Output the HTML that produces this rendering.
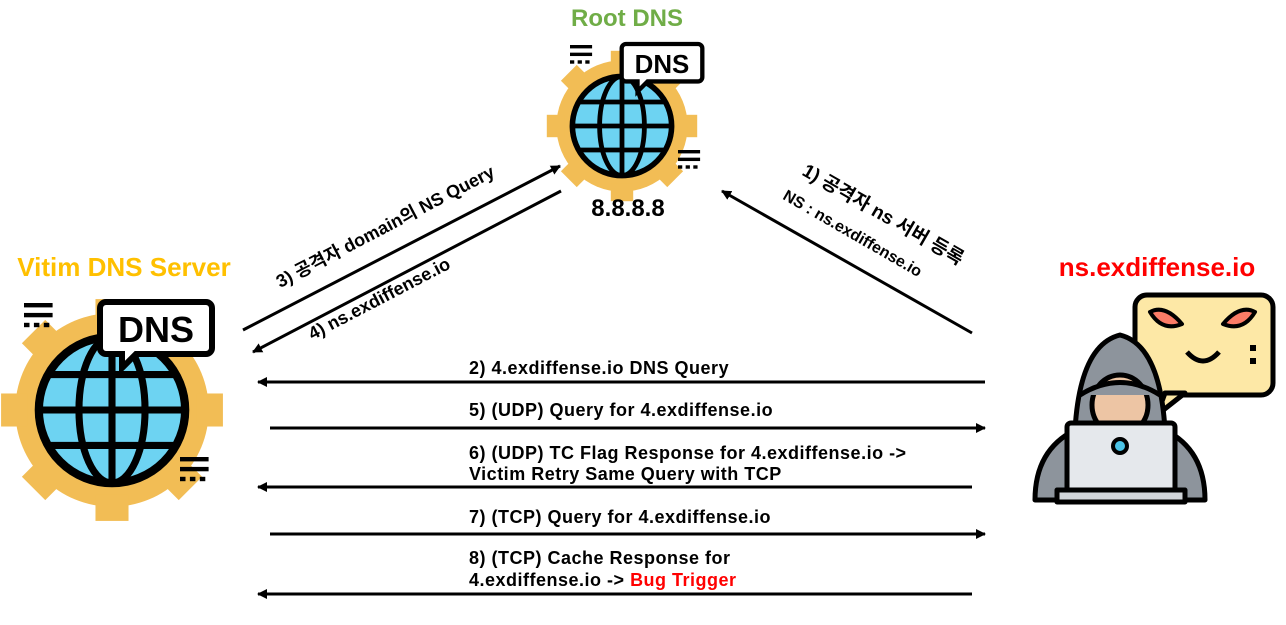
<!DOCTYPE html>
<html><head><meta charset="utf-8"><style>
body{margin:0;background:#fff;width:1286px;height:620px;overflow:hidden}
text{font-family:"Liberation Sans","Noto Sans CJK KR",sans-serif;font-weight:bold}
</style></head><body>
<svg width="1286" height="620" viewBox="0 0 1286 620" xmlns="http://www.w3.org/2000/svg">
<defs>
<marker id="ah" markerWidth="10" markerHeight="10" refX="9" refY="5" orient="auto" markerUnits="userSpaceOnUse"><path d="M0,0 L10,5 L0,10 z" fill="#000"/></marker>
<g id="gearglobe">
 <g fill="#f2bd55">
  <circle cx="0" cy="0" r="82"/>
  <g id="teeth">
   <rect x="-14" y="-94" width="28" height="22"/><rect x="-14" y="72" width="28" height="22"/>
   <rect x="-94" y="-14" width="22" height="28"/><rect x="72" y="-14" width="22" height="28"/>
  </g>
  <use href="#teeth" transform="rotate(45)"/>
 </g>
 <circle cx="0" cy="0" r="65" fill="#fff"/>
 <circle cx="0" cy="0" r="62" fill="#6dd3f2" stroke="#000" stroke-width="7"/>
 <ellipse cx="0" cy="0" rx="28" ry="62" fill="none" stroke="#000" stroke-width="6"/>
 <line x1="0" y1="-62" x2="0" y2="62" stroke="#000" stroke-width="6"/>
 <line x1="-62" y1="0" x2="62" y2="0" stroke="#000" stroke-width="6"/>
 <line x1="-55" y1="-30" x2="55" y2="-30" stroke="#000" stroke-width="6"/>
 <line x1="-55" y1="30" x2="55" y2="30" stroke="#000" stroke-width="6"/>
</g>
<g id="bubble">
 <path d="M0,0 h100 a6,6 0 0 1 6,6 v40 a6,6 0 0 1 -6,6 h-70 l-14,14 v-14 h-16 a6,6 0 0 1 -6,-6 v-40 a6,6 0 0 1 6,-6z" fill="#fff" stroke="#000" stroke-width="6"/>
 <text x="50" y="40" font-size="36" text-anchor="middle" fill="#000">DNS</text>
</g>
<g id="stripes" fill="#000"><rect x="0" y="0" width="26" height="4"/><rect x="0" y="9" width="26" height="4"/><rect x="0" y="18" width="5" height="4"/><rect x="9" y="18" width="5" height="4"/><rect x="18" y="18" width="5" height="4"/></g>
</defs>

<!-- Left DNS -->
<use href="#gearglobe" transform="translate(112,410) scale(1.18)"/>
<use href="#bubble" transform="translate(106,302) scale(1.0)"/>
<use href="#stripes" transform="translate(24,303) scale(1.1)"/>
<use href="#stripes" transform="translate(180,457) scale(1.1)"/>
<!-- Root DNS -->
<use href="#gearglobe" transform="translate(622,126) scale(0.8)"/>
<use href="#bubble" transform="translate(626,44) scale(0.72)"/>
<use href="#stripes" transform="translate(570,45) scale(0.85)"/>
<use href="#stripes" transform="translate(678,150) scale(0.85)"/>

<text x="627" y="26" font-size="24" fill="#70ad47" text-anchor="middle">Root DNS</text>
<text x="628" y="216" font-size="24" fill="#000" text-anchor="middle">8.8.8.8</text>
<text x="124" y="276" font-size="26" fill="#ffc000" text-anchor="middle">Vitim DNS Server</text>
<text x="1157" y="276" font-size="26" fill="#ff0000" text-anchor="middle">ns.exdiffense.io</text>

<!-- Hacker -->
<g stroke="#000" stroke-width="5" stroke-linejoin="round">
 <rect x="1135" y="295" width="138" height="100" rx="12" fill="#fde8a6"/>
 <path d="M1165,393 l-8,22 l28,-22z" fill="#fde8a6"/>
 <path d="M1150,312 q15,-8 32,12 q-20,8 -32,-12z" fill="#fc7c67" stroke-width="4"/>
 <path d="M1255,312 q-15,-8 -32,12 q20,8 32,-12z" fill="#fc7c67" stroke-width="4"/>
 <path d="M1187,352 q16,18 32,0" fill="none"/>
 <path d="M1035,500 q0,-50 40,-70 q5,-85 45,-95 q40,10 45,95 q40,20 40,70z" fill="#8d949c"/>
 <ellipse cx="1120" cy="405" rx="28" ry="30" fill="#edc5a4"/>
 <path d="M1080,395 q40,-25 80,0" fill="#8d949c"/>
 <rect x="1067" y="423" width="108" height="70" rx="4" fill="#e5e8ec"/>
 <rect x="1057" y="490" width="128" height="12" fill="#d0d4d8"/>
 <circle cx="1120" cy="446" r="7" fill="#4bc3e6" stroke-width="4"/>
</g>
<g fill="#000"><rect x="1250" y="345" width="6" height="6"/><rect x="1250" y="358" width="6" height="6"/></g>

<!-- diagonal arrows -->
<g stroke="#000" stroke-width="3" marker-end="url(#ah)">
 <line x1="243" y1="330" x2="560" y2="166"/>
 <line x1="561" y1="191" x2="253" y2="352"/>
 <line x1="972" y1="333" x2="722" y2="191"/>
</g>
<text font-size="18" transform="translate(388,232) rotate(-27.5)" text-anchor="middle">3) 공격자 domain의 NS Query</text>
<text font-size="18" transform="translate(382,304) rotate(-27.5)" text-anchor="middle">4) ns.exdiffense.io</text>
<text font-size="19" transform="translate(880,220) rotate(30)" text-anchor="middle">1) 공격자 ns 서버 등록</text>
<text font-size="16" transform="translate(850,238) rotate(30)" text-anchor="middle">NS : ns.exdiffense.io</text>

<!-- horizontal arrows -->
<g stroke="#000" stroke-width="3" marker-end="url(#ah)">
 <line x1="985" y1="382" x2="258" y2="382"/>
 <line x1="270" y1="428" x2="985" y2="428"/>
 <line x1="972" y1="487" x2="258" y2="487"/>
 <line x1="270" y1="534" x2="985" y2="534"/>
 <line x1="972" y1="594" x2="258" y2="594"/>
</g>
<g font-size="18" letter-spacing="0.5">
<text x="469" y="374">2) 4.exdiffense.io DNS Query</text>
<text x="469" y="416">5) (UDP) Query for 4.exdiffense.io</text>
<text x="469" y="459">6) (UDP) TC Flag Response for 4.exdiffense.io -&gt;</text>
<text x="469" y="480">Victim Retry Same Query with TCP</text>
<text x="469" y="523">7) (TCP) Query for 4.exdiffense.io</text>
<text x="469" y="564">8) (TCP) Cache Response for</text>
<text x="469" y="586">4.exdiffense.io -&gt; <tspan fill="#ff0000">Bug Trigger</tspan></text>
</g>
</svg>
</body></html>
